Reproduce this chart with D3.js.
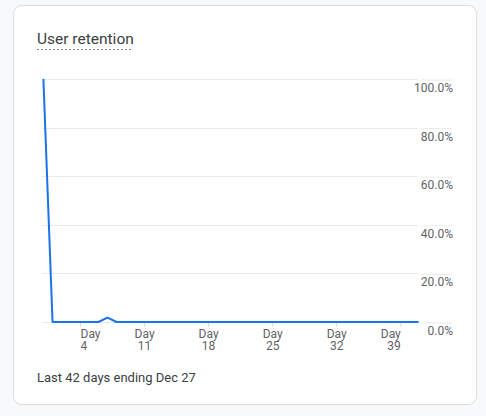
<!DOCTYPE html>
<html>
<head>
<meta charset="utf-8">
<script src="https://cdn.jsdelivr.net/npm/d3@7"></script>
<style>
  html, body { margin: 0; padding: 0; background: #f8f9fa; }
  svg { display: block; font-family: Roboto, "Noto Sans", sans-serif; }
</style>
</head>
<body>
<div id="chart"></div>
<script>
// retention by day since first visit (day 0 .. day 41)
var retention = [1.0, 0, 0, 0, 0, 0, 0, 0.018, 0, 0,
                 0, 0, 0, 0, 0, 0, 0, 0, 0, 0,
                 0, 0, 0, 0, 0, 0, 0, 0, 0, 0,
                 0, 0, 0, 0, 0, 0, 0, 0, 0, 0,
                 0, 0];
var dayTicks = [4, 11, 18, 25, 32, 39];
var pctTicks = [0, 0.2, 0.4, 0.6, 0.8, 1.0];
var title = "User retention";
var footer = "Last 42 days ending Dec 27";

var W = 486, H = 416;

var svg = d3.select("#chart").append("svg")
  .attr("width", W)
  .attr("height", H);

// card
svg.append("rect")
  .attr("x", 13.5).attr("y", 5.5)
  .attr("width", 463).attr("height", 399)
  .attr("rx", 8)
  .attr("fill", "#fff")
  .attr("stroke", "#dadce0");

svg.append("text")
  .attr("x", 37).attr("y", 44)
  .attr("fill", "#3c4043")
  .style("font-size", "15.5px")
  .text(title);

svg.append("line")
  .attr("x1", 37).attr("x2", 133)
  .attr("y1", 49.5).attr("y2", 49.5)
  .attr("stroke", "#80868b")
  .attr("stroke-dasharray", "2,2");

var x = d3.scaleLinear().domain([0, 41]).range([43.4, 418.6]);
var y = d3.scaleLinear().domain([0, 1]).range([322, 79]);

// gridlines
svg.append("g").selectAll("line")
  .data(pctTicks)
  .join("line")
  .attr("x1", 42).attr("x2", 418)
  .attr("y1", function (d) { return Math.round(y(d)) + 0.5; })
  .attr("y2", function (d) { return Math.round(y(d)) + 0.5; })
  .attr("stroke", "#e8eaed");

// y axis on the right
var yAxis = svg.append("g")
  .attr("transform", "translate(421,0.5)")
  .call(d3.axisRight(y).tickValues(pctTicks).tickSize(31).tickPadding(0)
    .tickFormat(d3.format(".1%")));
yAxis.select(".domain").remove();
yAxis.selectAll("line").attr("stroke", "#e8eaed");
yAxis.selectAll("text")
  .attr("x", 32).attr("y", 12).attr("dy", 0)
  .attr("text-anchor", "end")
  .attr("fill", "#5f6368")
  .style("font-size", "12px")
  .style("font-family", "Roboto, sans-serif");

// x axis
var xAxis = svg.append("g")
  .attr("transform", "translate(0,322)")
  .call(d3.axisBottom(x).tickValues(dayTicks).tickSize(5).tickFormat(""));
xAxis.select(".domain").remove();
xAxis.selectAll("line").attr("stroke", "#dadce0");
xAxis.selectAll(".tick text").each(function (d, i) {
  // first label hugs the left of its tick, last one the right
  var anchor = i === 0 ? "start" : (i === dayTicks.length - 1 ? "end" : "middle");
  var t = d3.select(this)
    .attr("y", 0).attr("dy", 0)
    .attr("text-anchor", anchor)
    .attr("fill", "#5f6368")
    .style("font-size", "12px")
    .style("font-family", "Roboto, sans-serif");
  t.append("tspan").attr("x", 0).attr("y", 16).text("Day");
  t.append("tspan").attr("x", 0).attr("y", 28).text(d);
});

// line
var line = d3.line()
  .x(function (d, i) { return x(i); })
  .y(function (d) { return y(d); });

svg.append("path")
  .datum(retention)
  .attr("d", line)
  .attr("fill", "none")
  .attr("stroke", "#1a73e8")
  .attr("stroke-width", 2)
  .attr("stroke-linejoin", "round");

svg.append("text")
  .attr("x", 37).attr("y", 382)
  .attr("fill", "#3c4043")
  .style("font-size", "13px")
  .text(footer);
</script>
</body>
</html>
